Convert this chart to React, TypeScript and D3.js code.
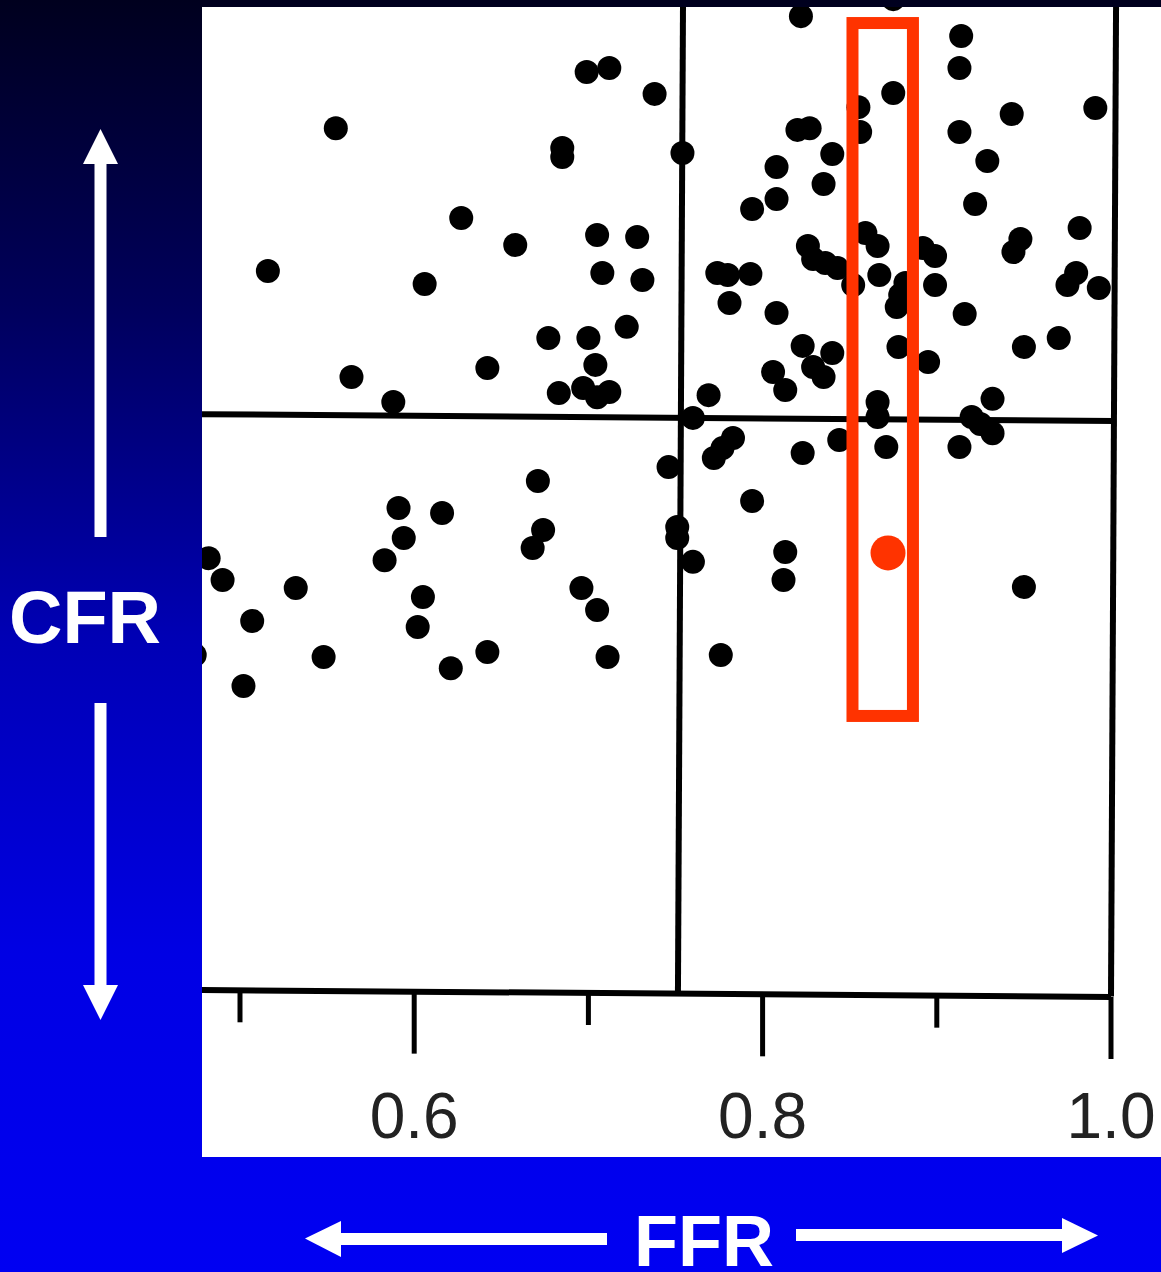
import React from "react";
import * as d3 from "d3";

// ---- data ----
const patientFFR = [
  0.822, 0.875, 0.914, 0.913, 0.699, 0.712, 0.738, 0.875, 0.855, 0.943,
  0.991, 0.555, 0.820, 0.827, 0.856, 0.913, 0.685, 0.685, 0.754, 0.840,
  0.929, 0.808, 0.835, 0.808, 0.794, 0.922, 0.627, 0.705, 0.728, 0.658,
  0.948, 0.982, 0.859, 0.866, 0.892, 0.899, 0.826, 0.829, 0.836, 0.843,
  0.852, 0.867, 0.882, 0.879, 0.877, 0.899, 0.916, 0.944, 0.980, 0.975,
  0.993, 0.516, 0.606, 0.708, 0.731, 0.774, 0.780, 0.793, 0.781, 0.808,
  0.677, 0.700, 0.722, 0.704, 0.564, 0.642, 0.588, 0.683, 0.697, 0.705,
  0.712, 0.769, 0.806, 0.813, 0.823, 0.829, 0.835, 0.840, 0.878, 0.895,
  0.950, 0.970, 0.866, 0.866, 0.932, 0.920, 0.925, 0.932, 0.871, 0.913,
  0.844, 0.760, 0.783, 0.777, 0.772, 0.823, 0.746, 0.671, 0.794, 0.591,
  0.616, 0.674, 0.668, 0.751, 0.751, 0.760, 0.594, 0.583, 0.482, 0.490,
  0.532, 0.813, 0.812, 0.696, 0.705, 0.605, 0.602, 0.507, 0.950, 0.711,
  0.776, 0.642, 0.621, 0.548, 0.502, 0.474,
];
const patientCFR = [
  3.392, 3.451, 3.323, 3.212, 3.198, 3.212, 3.122, 3.125, 3.076, 3.052,
  3.073, 3.003, 2.997, 3.003, 2.990, 2.990, 2.934, 2.903, 2.917, 2.913,
  2.889, 2.868, 2.809, 2.757, 2.722, 2.740, 2.691, 2.632, 2.625, 2.597,
  2.618, 2.656, 2.639, 2.594, 2.587, 2.559, 2.594, 2.549, 2.535, 2.517,
  2.458, 2.493, 2.465, 2.424, 2.382, 2.458, 2.358, 2.573, 2.500, 2.458,
  2.448, 2.507, 2.462, 2.500, 2.476, 2.500, 2.493, 2.497, 2.396, 2.361,
  2.274, 2.274, 2.313, 2.181, 2.139, 2.170, 2.052, 2.083, 2.101, 2.069,
  2.087, 2.076, 2.156, 2.094, 2.247, 2.174, 2.139, 2.222, 2.243, 2.191,
  2.243, 2.274, 2.052, 2.000, 2.063, 2.000, 1.976, 1.944, 1.896, 1.896,
  1.920, 1.997, 1.927, 1.892, 1.858, 1.875, 1.826, 1.778, 1.708, 1.684,
  1.667, 1.608, 1.545, 1.618, 1.580, 1.497, 1.580, 1.503, 1.510, 1.434,
  1.406, 1.531, 1.434, 1.406, 1.330, 1.375, 1.271, 1.292, 1.410, 1.167,
  1.174, 1.184, 1.128, 1.167, 1.066, 1.174,
];

// highlighted patient and the highlighted FFR band
const highlightFFR = 0.872;
const highlightCFR = 1.528;
const bandFFR = [0.8516, 0.8863];
const bandCFR = [0.962, 3.368];

// reference lines (scanned figure is slightly skewed)
const cfrCutFFR = [0.478, 1.002];
const cfrCutCFR = [2.010, 1.986];
const ffrCutFFR = [0.7543, 0.7514];
const ffrCutCFR = [3.424, 0.0];
const rightFFR = [1.0029, 1.0];
const rightCFR = [3.424, -0.012];
const axisFFR = [0.478, 1.0];
const axisCFR = [0.0104, -0.0139];

const majorTicks = [0.6, 0.8, 1.0];
const minorTicks = [0.5, 0.7, 0.9];
const tickLabels = ["0.6", "0.8", "1.0"];

const W = 1161;
const H = 1272;

export default function App() {
  const x = d3.scaleLinear().domain([0.5, 1.0]).range([240, 1111]);
  const y = d3.scaleLinear().domain([0, 3.448]).range([993, 0]);
  const axisY = (f: number) => {
    const t = (f - axisFFR[0]) / (axisFFR[1] - axisFFR[0]);
    return y(axisCFR[0] + t * (axisCFR[1] - axisCFR[0]));
  };
  const lineGen = d3
    .line<[number, number]>()
    .x((d) => x(d[0]))
    .y((d) => y(d[1]));
  const seg = (fs: number[], cs: number[]) =>
    lineGen(fs.map((f, i) => [f, cs[i]] as [number, number])) || "";

  const panel = { x: 202, y: 7, w: W - 202, h: 1150 };
  const frameStroke = 6;
  const textFont = "'Liberation Sans', Arial, Helvetica, sans-serif";

  return (
    <svg
      width={W}
      height={H}
      viewBox={`0 0 ${W} ${H}`}
      style={{ position: "absolute", left: 0, top: 0, display: "block" }}
    >
      <defs>
        <linearGradient id="bg" x1="0" y1="0" x2="0" y2="1">
          <stop offset="0" stopColor="#00001e" />
          <stop offset="0.24" stopColor="#00005c" />
          <stop offset="0.5" stopColor="#0000b4" />
          <stop offset="0.75" stopColor="#0000e4" />
          <stop offset="1" stopColor="#0000f2" />
        </linearGradient>
        <clipPath id="panelClip">
          <rect x={panel.x} y={panel.y} width={panel.w} height={panel.h} />
        </clipPath>
      </defs>
      <rect x={0} y={0} width={W} height={H} fill="url(#bg)" />
      <rect x={panel.x} y={panel.y} width={panel.w} height={panel.h} fill="#ffffff" />

      <g clipPath="url(#panelClip)">
        {/* frame lines */}
        <g stroke="#000" strokeWidth={frameStroke} fill="none" strokeLinecap="butt">
          <path d={seg(cfrCutFFR, cfrCutCFR)} />
          <path d={seg(ffrCutFFR, ffrCutCFR)} />
          <path d={seg(rightFFR, rightCFR)} />
          <path d={seg(axisFFR, axisCFR)} />
        </g>
        {/* ticks */}
        <g stroke="#000" strokeWidth={5}>
          {majorTicks.map((t) => (
            <line key={"M" + t} x1={x(t)} x2={x(t)} y1={axisY(t)} y2={axisY(t) + 62} />
          ))}
          {minorTicks.map((t) => (
            <line key={"m" + t} x1={x(t)} x2={x(t)} y1={axisY(t)} y2={axisY(t) + 32} />
          ))}
        </g>
        {/* tick labels */}
        <g fontFamily={textFont} fontSize={64} fill="#222" textAnchor="middle">
          {majorTicks.map((t, i) => (
            <text key={"l" + t} x={x(t)} y={1138}>
              {tickLabels[i]}
            </text>
          ))}
        </g>
        {/* patients */}
        <g fill="#000">
          {patientFFR.map((f, i) => (
            <circle key={i} cx={x(f)} cy={y(patientCFR[i])} r={12} />
          ))}
        </g>
        {/* highlight band */}
        <rect
          x={x(bandFFR[0])}
          y={y(bandCFR[1])}
          width={x(bandFFR[1]) - x(bandFFR[0])}
          height={y(bandCFR[0]) - y(bandCFR[1])}
          fill="none"
          stroke="#ff3300"
          strokeWidth={12}
        />
        <circle cx={x(highlightFFR)} cy={y(highlightCFR)} r={17.5} fill="#ff3300" />
      </g>

      {/* CFR axis title with arrows */}
      <g fill="#ffffff">
        <rect x={94.5} y={163} width={12} height={374} />
        <polygon points="100.5,129 118,164 83,164" />
        <rect x={94.5} y={703} width={12} height={283} />
        <polygon points="83,985 118,985 100.5,1020" />
        <text
          x={85}
          y={643}
          fontFamily={textFont}
          fontWeight="bold"
          fontSize={74}
          textAnchor="middle"
        >
          CFR
        </text>
      </g>

      {/* FFR axis title with arrows */}
      <g fill="#ffffff">
        <rect x={340} y={1233} width={267} height={12} />
        <polygon points="305,1238.5 341,1221 341,1257" />
        <rect x={796} y={1229} width={267} height={12} />
        <polygon points="1062,1218 1062,1253 1098,1235.5" />
        <text
          x={704}
          y={1266}
          fontFamily={textFont}
          fontWeight="bold"
          fontSize={72}
          textAnchor="middle"
        >
          FFR
        </text>
      </g>
    </svg>
  );
}
